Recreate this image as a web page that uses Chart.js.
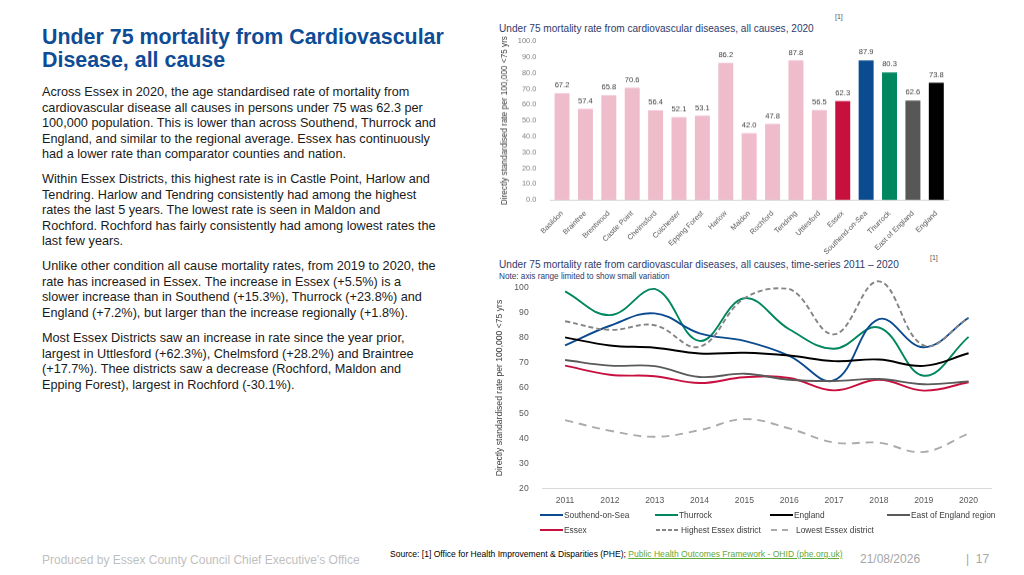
<!DOCTYPE html>
<html>
<head>
<meta charset="utf-8">
<script src="https://cdn.jsdelivr.net/npm/chart.js@4/dist/chart.umd.min.js"></script>
<style>
  html,body{margin:0;padding:0;background:#fff;}
  body{width:1024px;height:575px;position:relative;overflow:hidden;font-family:"Liberation Sans",Arial,sans-serif;}
  .abs{position:absolute;white-space:nowrap;}
  #title{left:42px;top:26px;font-size:21.4px;font-weight:bold;color:#0E4C96;line-height:22.7px;}
  .para{position:absolute;left:42px;font-size:12.7px;line-height:15.5px;color:#1a1a1a;white-space:nowrap;}
  .ctitle{font-size:10.1px;color:#2F3B6C;}
  .ref{font-size:7px;color:#555;}
  #note{font-size:8.2px;color:#2F3B6C;}
  #footer{left:42px;top:553px;font-size:12px;color:#BFBFBF;}
  #source{left:390px;top:549px;font-size:8.55px;color:#000;}
  #source a{color:#5FA83A;text-decoration:underline;}
  #date{left:860px;top:552px;font-size:12px;color:#A6A6A6;}
  #page{left:966px;top:552px;font-size:12px;color:#A6A6A6;}
  .leg{position:absolute;font-size:8.35px;color:#404040;white-space:nowrap;display:flex;align-items:center;height:12px;}
  .leg svg{margin-right:1px;}
</style>
</head>
<body>
<div id="title" class="abs">Under 75 mortality from Cardiovascular<br>Disease, all cause</div>

<div class="para" style="top:85px;">Across Essex in 2020, the age standardised rate of mortality from<br>cardiovascular disease all causes in persons under 75 was 62.3 per<br>100,000 population. This is lower than across Southend, Thurrock and<br>England, and similar to the regional average. Essex has continuously<br>had a lower rate than comparator counties and nation.</div>
<div class="para" style="top:172px;">Within Essex Districts, this highest rate is in Castle Point, Harlow and<br>Tendring. Harlow and Tendring consistently had among the highest<br>rates the last 5 years. The lowest rate is seen in Maldon and<br>Rochford. Rochford has fairly consistently had among lowest rates the<br>last few years.</div>
<div class="para" style="top:259px;">Unlike other condition all cause mortality rates, from 2019 to 2020, the<br>rate has increased in Essex. The increase in Essex (+5.5%) is a<br>slower increase than in Southend (+15.3%), Thurrock (+23.8%) and<br>England (+7.2%), but larger than the increase regionally (+1.8%).</div>
<div class="para" style="top:331px;">Most Essex Districts saw an increase in rate since the year prior,<br>largest in Uttlesford (+62.3%), Chelmsford (+28.2%) and Braintree<br>(+17.7%). Thee districts saw a decrease (Rochford, Maldon and<br>Epping Forest), largest in Rochford (-30.1%).</div>

<div class="abs ctitle" style="left:499px;top:23px;">Under 75 mortality rate from cardiovascular diseases, all causes, 2020</div>
<div class="abs ref" style="left:835px;top:13px;">[1]</div>
<div class="abs ctitle" style="left:499px;top:259px;">Under 75 mortality rate from cardiovascular diseases, all causes, time-series 2011 – 2020</div>
<div class="abs ref" style="left:930px;top:254px;">[1]</div>
<div id="note" class="abs" style="left:499px;top:272px;">Note: axis range limited to show small variation</div>

<div style="position:absolute;left:500px;top:30px;width:454px;height:226.5px;"><canvas id="bar"></canvas></div>
<div style="position:absolute;left:494px;top:276px;width:503px;height:235.3px;"><canvas id="line"></canvas></div>

<div id="legend"></div>

<div id="footer" class="abs">Produced by Essex County Council Chief Executive’s Office</div>
<div id="source" class="abs">Source: [1] Office for Health Improvement &amp; Disparities (PHE); <a>Public Health Outcomes Framework - OHID (phe.org.uk)</a></div>
<div id="date" class="abs">21/08/2026</div>
<div id="page" class="abs">|&nbsp;&nbsp;17</div>

<script>
// ---------- Data ----------
const barCategories = ["Basildon","Braintree","Brentwood","Castle Point","Chelmsford","Colchester","Epping Forest","Harlow","Maldon","Rochford","Tendring","Uttlesford","Essex","Southend-on-Sea","Thurrock","East of England","England"];
const barValues = [67.2,57.4,65.8,70.6,56.4,52.1,53.1,86.2,42.0,47.8,87.8,56.5,62.3,87.9,80.3,62.6,73.8];
const barColors = ["#EFBCCC","#EFBCCC","#EFBCCC","#EFBCCC","#EFBCCC","#EFBCCC","#EFBCCC","#EFBCCC","#EFBCCC","#EFBCCC","#EFBCCC","#EFBCCC","#C8103E","#0B4B8F","#00875F","#575757","#000000"];
const barYTicks = [0,10,20,30,40,50,60,70,80,90,100];

const years = ["2011","2012","2013","2014","2015","2016","2017","2018","2019","2020"];
const southend = [76.9,84.7,89.6,81.7,78.7,72.8,63.1,87.3,76.2,87.9];
const thurrock = [98.3,88.9,99.3,78.7,95.6,83.3,75.6,84.0,64.9,80.3];
const england = [80.1,76.9,76.0,73.7,74.0,72.9,70.7,71.3,68.8,73.8];
const eastOfEngland = [71.1,68.9,68.7,64.4,65.7,63.3,62.8,63.6,61.5,62.6];
const essex = [68.9,65.3,64.7,62.0,64.3,64.0,59.1,63.3,59.0,62.3];
const highestDistrict = [86.5,83.1,84.9,76.4,95.6,99.3,81.3,102.3,76.9,87.8];
const lowestDistrict = [47.3,43.1,40.7,43.3,47.7,44.0,38.4,38.3,34.7,42.0];
const lineYTicks = [20,30,40,50,60,70,80,90,100];

// ---------- Bar chart ----------
const valueLabels = {
  id:'valueLabels',
  afterDatasetsDraw(chart){
    const ctx = chart.ctx;
    const meta = chart.getDatasetMeta(0);
    ctx.save();
    ctx.font = '7.6px "Liberation Sans", Arial, sans-serif';
    ctx.fillStyle = '#404040';
    ctx.textAlign = 'center';
    ctx.textBaseline = 'bottom';
    meta.data.forEach((el,i)=>{
      ctx.fillText(barValues[i].toFixed(1), el.x, el.y - 4);
    });
    ctx.restore();
  }
};

new Chart(document.getElementById('bar'), {
  type:'bar',
  data:{labels:barCategories, datasets:[{data:barValues, backgroundColor:barColors, borderWidth:0, barPercentage:0.64, categoryPercentage:1.0}]},
  options:{
    responsive:true, maintainAspectRatio:false, animation:false,
    layout:{padding:{top:11,right:6,left:0,bottom:0}},
    plugins:{legend:{display:false}, tooltip:{enabled:false}},
    scales:{
      x:{
        grid:{display:false},
        border:{display:true,color:'#D9D9D9'},
        ticks:{font:{size:7.4,family:'"Liberation Sans", Arial, sans-serif'},color:'#595959',maxRotation:45,minRotation:45,padding:1,autoSkip:false}
      },
      y:{
        min:0,max:100,
        afterBuildTicks(axis){axis.ticks = barYTicks.map(v=>({value:v}));},
        grid:{display:false},
        border:{display:false},
        ticks:{font:{size:7.4,family:'"Liberation Sans", Arial, sans-serif'},color:'#7F7F7F',padding:6,callback:(v)=>Number(v).toFixed(1)},
        title:{display:true,text:'Directly standardised rate per 100,000 <75 yrs',font:{size:8.2,family:'"Liberation Sans", Arial, sans-serif'},color:'#404040',padding:{top:0,bottom:2}}
      }
    }
  },
  plugins:[valueLabels]
});

// ---------- Line chart ----------
const lineFont = '"Liberation Sans", Arial, sans-serif';
function ds(label,data,color,dash){
  return {label,data,borderColor:color,backgroundColor:color,borderWidth:1.9,pointRadius:0,tension:0.4,borderDash:dash||[],clip:false,fill:false};
}
const lineSeries = [
  ds('Lowest Essex district',lowestDistrict,'#ABABAB',[8,6]),
  ds('Highest Essex district',highestDistrict,'#858585',[5,3]),
  ds('East of England region',eastOfEngland,'#5A5A5A'),
  ds('Essex',essex,'#C8103E'),
  ds('England',england,'#000000'),
  ds('Southend-on-Sea',southend,'#0B4B8F'),
  ds('Thurrock',thurrock,'#00875F')
];
new Chart(document.getElementById('line'), {
  type:'line',
  data:{labels:years, datasets:lineSeries},
  options:{
    responsive:true, maintainAspectRatio:false, animation:false,
    layout:{padding:{top:6,right:6,left:0,bottom:0}},
    plugins:{legend:{display:false}, tooltip:{enabled:false}},
    scales:{
      x:{
        offset:true,
        grid:{display:false, offset:true, drawTicks:false},
        border:{display:true,color:'#D9D9D9'},
        ticks:{font:{size:8.6,family:lineFont},color:'#595959',padding:6,maxRotation:0}
      },
      y:{
        min:20,max:100,
        afterBuildTicks(axis){axis.ticks = lineYTicks.map(v=>({value:v}));},
        grid:{display:false},
        border:{display:false},
        ticks:{font:{size:8.6,family:lineFont},color:'#595959',padding:6},
        title:{display:true,text:'Directly standardised rate per 100,000 <75 yrs',font:{size:8.6,family:lineFont},color:'#404040',padding:{top:0,bottom:4}}
      }
    }
  }
});

// ---------- HTML legend ----------
const legendItems = [
  {label:'Southend-on-Sea',color:'#0B4B8F',dash:'',w:23,gap:1,x:540,y:509},
  {label:'Thurrock',color:'#00875F',dash:'',w:23,gap:1,x:655,y:509},
  {label:'England',color:'#000000',dash:'',w:23,gap:1,x:770,y:509},
  {label:'East of England region',color:'#5A5A5A',dash:'',w:23,gap:1,x:887,y:509},
  {label:'Essex',color:'#C8103E',dash:'',w:23,gap:1,x:540,y:524},
  {label:'Highest Essex district',color:'#858585',dash:'4,2',w:24,gap:1,x:656,y:524},
  {label:'Lowest Essex district',color:'#ABABAB',dash:'6,5',w:17,gap:8,x:771,y:524}
];
const legendEl = document.getElementById('legend');
legendItems.forEach(it=>{
  const d = document.createElement('div');
  d.className='leg';
  d.style.left = it.x+'px';
  d.style.top = it.y+'px';
  d.innerHTML = '<svg width="'+it.w+'" height="4" style="margin-right:'+it.gap+'px"><line x1="0" y1="2" x2="'+it.w+'" y2="2" stroke="'+it.color+'" stroke-width="2" '+(it.dash?'stroke-dasharray="'+it.dash+'"':'')+'/></svg>'+it.label;
  legendEl.appendChild(d);
});
</script>
</body>
</html>
